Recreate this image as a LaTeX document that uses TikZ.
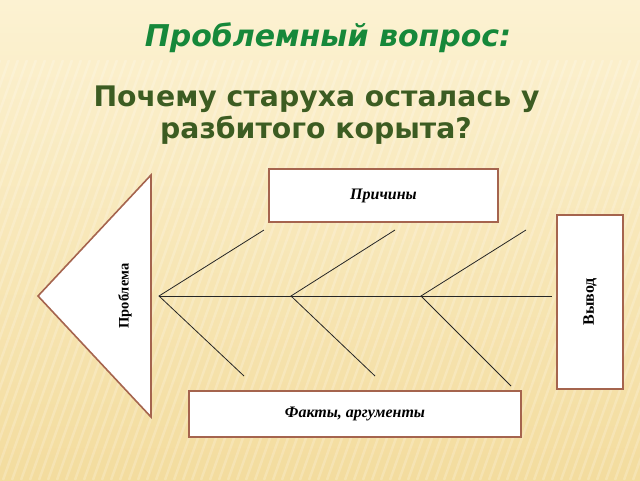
\documentclass[tikz,border=0pt]{standalone}
\usepackage{fontspec}
\setmainfont{Liberation Serif}
\newfontfamily\headfont{DejaVu Sans}

\definecolor{bgtop}{HTML}{FCF2D2}
\definecolor{bgbot}{HTML}{F3DC9E}
\definecolor{titlegreen}{HTML}{16883A}
\definecolor{questgreen}{HTML}{3C5C22}
\definecolor{boxbrown}{HTML}{A5644E}

\begin{document}
\begin{tikzpicture}[x=1pt,y=-1pt,
    box/.style={draw=boxbrown, line width=1.6pt, fill=white, inner sep=0pt,
                font=\fontsize{16}{18}\selectfont},
    bone/.style={line width=0.8pt, draw=black!85}]
    % Background
    \shade[top color=bgtop, bottom color=bgbot] (0,0) rectangle (640,480);
    \begin{scope}
        \clip (0,60) rectangle (640,480);
        \foreach \x in {-240,-231,...,640} {
            \draw[white, opacity=0.2, line width=2.5pt] (\x,480) -- (\x+150,60);
        }
    \end{scope}
    \useasboundingbox (0,0) rectangle (640,480);

    % Headings
    \node[anchor=base, text=titlegreen, font=\headfont\bfseries\itshape\fontsize{30}{34}\selectfont]
        (title) at (328,46) {Проблемный вопрос:};
    \node[anchor=base, text=questgreen, font=\headfont\bfseries\fontsize{28.3}{32}\selectfont]
        (quest1) at (316.5,106) {Почему старуха осталась у};
    \node[anchor=base, text=questgreen, font=\headfont\bfseries\fontsize{28.3}{32}\selectfont]
        (quest2) at (316,138) {разбитого корыта?};

    % Head of the fish
    \coordinate (tip) at (38,296);
    \coordinate (headtop) at (151,175);
    \coordinate (headbot) at (151,417);
    \draw[boxbrown, line width=1.6pt, fill=white, line join=miter] (tip) -- (headtop) -- (headbot) -- cycle;
    \node[rotate=90, font=\bfseries\fontsize{14.5}{16}\selectfont] (problem) at (125,296) {Проблема};

    % Boxes
    \node[box, minimum width=229pt, minimum height=53pt] (causes) at (383.5,195.5) {\bfseries\itshape Причины};
    \node[box, minimum width=332pt, minimum height=46pt] (facts) at (355,414) {\bfseries\itshape Факты, аргументы};
    \node[box, minimum width=66pt, minimum height=174pt] (result) at (590,302) {};
    \node[rotate=90, font=\bfseries\fontsize{16}{18}\selectfont] (resultlabel) at (result.center) {Вывод};

    % Spine
    \coordinate (j1) at (159,296);
    \coordinate (j2) at (291,296);
    \coordinate (j3) at (421,296);
    \coordinate (tail) at (552,296);
    \draw[bone] (j1) -- (tail);

    % Bones
    \coordinate (u1) at (264,230);
    \coordinate (u2) at (395,230);
    \coordinate (u3) at (526,230);
    \coordinate (d1) at (244,376);
    \coordinate (d2) at (375,376);
    \coordinate (d3) at (511,386);
    \foreach \i in {1,2,3} {
        \draw[bone] (u\i) -- (j\i) -- (d\i);
    }
\end{tikzpicture}
\end{document}
